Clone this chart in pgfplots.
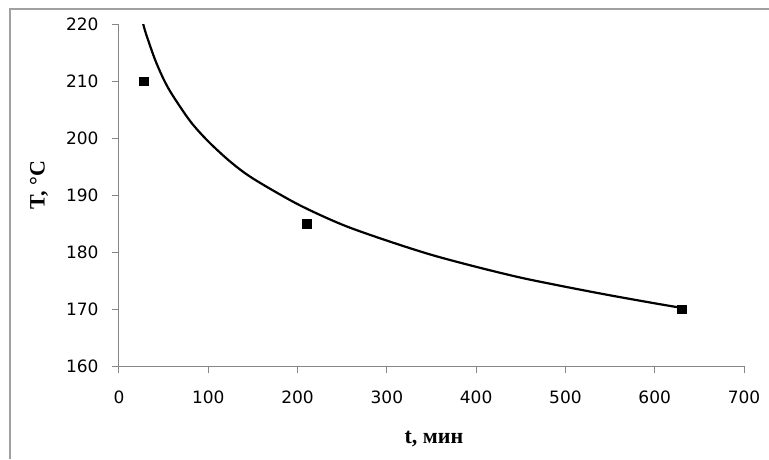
\documentclass[border=0pt]{standalone}
\usepackage{fontspec}
\setmainfont{Liberation Serif}
\newfontfamily\tickfont{DejaVu Sans}
\usepackage{pgfplots}
\pgfplotsset{compat=1.18}
\definecolor{axisgray}{RGB}{134,134,134}
\definecolor{framegray}{RGB}{160,160,160}
\begin{document}
\begin{tikzpicture}[x=1pt,y=1pt]
\useasboundingbox (0,0) rectangle (769,459);
% chart area border (only left and top visible)
\draw[line width=1.3pt, framegray] (10,0) -- (10,450) -- (769,450);
\begin{axis}[
    at={(119pt,93pt)}, anchor=south west,
    scale only axis, width=625pt, height=342pt,
    xmin=0, xmax=700, ymin=160, ymax=220,
    xtick={0,100,...,700}, ytick={160,170,...,220},
    axis lines=left,
    axis line style={-, draw=axisgray, line width=1pt},
    tick align=outside, major tick length=7pt,
    tick style={draw=axisgray, line width=1pt},
    /pgf/number format/assume math mode=true,
    ticklabel style={font=\tickfont\fontsize{17}{20}\selectfont, text=black},
    xticklabel style={yshift=-14pt},
    yticklabel style={xshift=-10pt},
    xlabel={\textbf{t, мин}},
    ylabel={\textbf{T, °C}},
    label style={font=\fontsize{22}{26}\selectfont},
    xlabel style={at={(axis description cs:0.504,-0.228)}, anchor=base},
    ylabel style={at={(axis description cs:-0.128,0.529)}, anchor=center},
    clip=true,
]
% fitted curve
\addplot[black, line width=2.2pt, smooth] coordinates {
(27,220.1) (30,218.4) (40,213.9) (50,210.3) (60,207.5) (80,202.9)
(100,199.4) (125,195.8) (150,192.9) (200,188.4) (250,184.8)
(300,182.0) (350,179.5) (400,177.4) (450,175.5) (500,173.9)
(550,172.4) (600,171.0) (630,170.2)
};
% measured points
\addplot[only marks, mark=square*, mark size=4.3pt, black] coordinates {
(28,210) (210,185) (630,170)
};
\end{axis}
\end{tikzpicture}
\end{document}
